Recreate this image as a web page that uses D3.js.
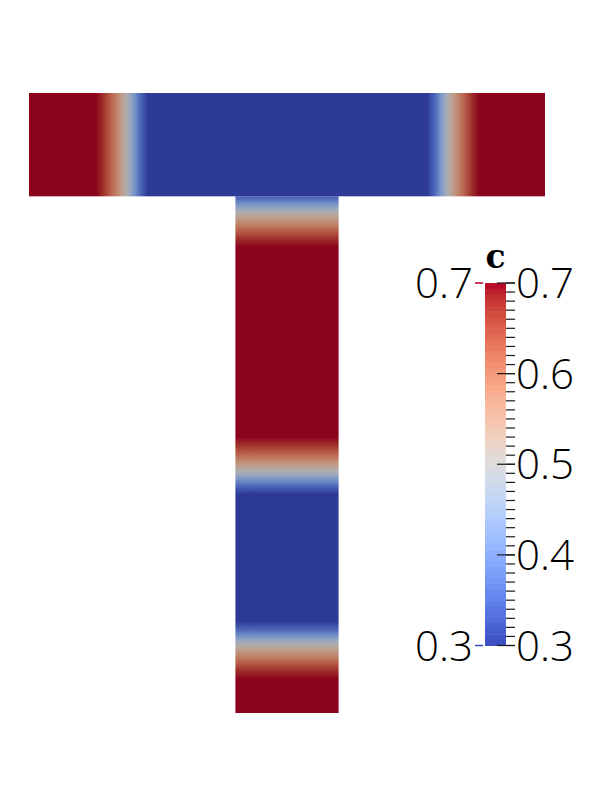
<!DOCTYPE html>
<html><head><meta charset="utf-8">
<script src="https://cdn.jsdelivr.net/npm/d3@7"></script>
<style>body{margin:0;background:#fff}svg{display:block}</style></head>
<body><svg id="chart" width="599" height="806"></svg>
<script>
// ---- geometry of the T (model units) ----
const barExtentX = [-2.5, 2.5];
const barExtentY = [0, 1];
const stemExtentX = [-0.5, 0.5];
const stemExtentY = [-5, 0];

// ---- diffuse interfaces of field c ----
const barInterfacePos = [-1.55, 1.56];
const barInterfaceSide = [-1, 1];        // side (along x) where c is high
const barInterfaceWidth = [0.2, 0.2];
const stemInterfacePos = [-0.155, -2.661, -4.335];
const stemInterfaceSide = [-1, 1, -1];   // side (along y) where c is high
const stemInterfaceWidth = [0.22, 0.22, 0.22];

// c across an interface vs normalised distance (high-c side is wider)
const profileD = [-2, -1, -0.6, -0.3, 0, 0.4, 0.8, 1.2, 1.5, 2.2];
const profileC = [0.2, 0.3, 0.36, 0.43, 0.5, 0.57, 0.63, 0.68, 0.7, 0.78];

// ---- colour bar ----
const cRange = [0.3, 0.7];
const rangeLabels = ["0.3", "0.7"];
const colorTitle = "c";
// Cool to Warm (Moreland) control colours
const coolWarm = [
 [59,76,192],[68,90,204],[77,104,215],[87,117,225],[98,130,234],[108,142,241],[119,154,247],[130,165,251],
 [141,176,254],[152,185,255],[163,194,255],[174,201,253],[184,208,249],[194,213,244],[204,217,238],[213,219,230],
 [221,221,221],[229,216,209],[236,211,197],[241,204,185],[245,196,173],[247,187,160],[247,177,148],[247,166,135],
 [244,154,123],[241,141,111],[236,127,99],[229,112,88],[222,96,77],[213,80,66],[203,62,56],[192,40,47],[180,4,38]];
const shade = 0.78;

const svg = d3.select("#chart");
svg.append("rect").attr("width",599).attr("height",806).attr("fill","#fff");

const x = d3.scaleLinear(barExtentX, [29, 545]);
const y = d3.scaleLinear([barExtentY[1], stemExtentY[0]], [93, 713]);

const color = d3.scaleLinear()
  .domain(coolWarm.map((_, i) => cRange[0] + (cRange[1]-cRange[0]) * i / (coolWarm.length-1)))
  .range(coolWarm.map(c => d3.rgb(c[0], c[1], c[2])))
  .interpolate(d3.interpolateRgb).clamp(true);
const shaded = v => { const c = d3.rgb(color(v)); return d3.rgb(c.r*shade, c.g*shade, c.b*shade).formatHex(); };

const profile = d3.scaleLinear(profileD, profileC).clamp(true);
function field(s, pos, side, width) {
  let best = 0;
  pos.forEach((p, i) => { if (Math.abs(s-p) < Math.abs(s-pos[best])) best = i; });
  return profile(side[best] * (s - pos[best]) / width[best]);
}

const defs = svg.append("defs");
function gradient(id, extent, vertical, pos, side, width) {
  const g = defs.append("linearGradient").attr("id", id)
    .attr("x1", 0).attr("y1", 0).attr("x2", vertical ? 0 : 1).attr("y2", vertical ? 1 : 0);
  const n = 600;
  const samples = d3.range(n + 1).map(i => i / n);
  g.selectAll("stop").data(samples).join("stop")
    .attr("offset", t => t)
    .attr("stop-color", t => {
      const s = vertical ? extent[1] - t * (extent[1]-extent[0]) : extent[0] + t * (extent[1]-extent[0]);
      return shaded(field(s, pos, side, width));
    });
}
gradient("barGrad", barExtentX, false, barInterfacePos, barInterfaceSide, barInterfaceWidth);
gradient("stemGrad", stemExtentY, true, stemInterfacePos, stemInterfaceSide, stemInterfaceWidth);

svg.append("rect")
  .attr("x", x(stemExtentX[0])).attr("y", y(stemExtentY[1]))
  .attr("width", x(stemExtentX[1]) - x(stemExtentX[0]))
  .attr("height", y(stemExtentY[0]) - y(stemExtentY[1]))
  .attr("fill", "url(#stemGrad)");
svg.append("rect")
  .attr("x", x(barExtentX[0])).attr("y", y(barExtentY[1]))
  .attr("width", x(barExtentX[1]) - x(barExtentX[0]))
  .attr("height", y(barExtentY[0]) - y(barExtentY[1]))
  .attr("fill", "url(#barGrad)");

// ---- colour bar ----
const cb = d3.scaleLinear(cRange, [645.5, 283]);
const barX0 = 485, barX1 = 506;
const nBands = 64;
const bands = d3.range(nBands).map(i => cRange[0] + (cRange[1]-cRange[0]) * i / nBands);
const bandH = (cRange[1]-cRange[0]) / nBands;
svg.append("g").selectAll("rect").data(bands).join("rect")
  .attr("x", barX0).attr("width", barX1 - barX0)
  .attr("y", v => cb(v + bandH)).attr("height", v => cb(v) - cb(v + bandH) + 0.5)
  .attr("fill", v => color(v + bandH/2));

const minor = cb.ticks(40), major = cb.ticks(4);
const tg = svg.append("g").attr("stroke", "#1a1a1a").attr("stroke-width", 1.2);
tg.selectAll("line.mi").data(minor).join("line").attr("class","mi")
  .attr("x1", barX1).attr("x2", 515).attr("y1", v => cb(v)).attr("y2", v => cb(v));
tg.selectAll("line.ma").data(major).join("line").attr("class","ma")
  .attr("x1", 497).attr("x2", 515).attr("y1", v => cb(v)).attr("y2", v => cb(v));

const font = "'Open Sans', 'Liberation Sans', sans-serif";
svg.append("g").selectAll("text").data(major).join("text")
  .attr("x", 516).attr("y", v => cb(v) + 15)
  .attr("font-family", font).attr("font-weight", 300).attr("font-size", 42)
  .attr("fill", "#000").text(v => d3.format(".1f")(v));

// range annotations on the left
const ann = svg.append("g");
ann.selectAll("line").data(cRange).join("line")
  .attr("x1", 475).attr("x2", 483).attr("y1", v => cb(v)).attr("y2", v => cb(v))
  .attr("stroke", v => color(v)).attr("stroke-width", 1.5);
ann.selectAll("text").data(cRange).join("text")
  .attr("x", 473).attr("y", (v, i) => cb(v) + 15).attr("text-anchor", "end")
  .attr("font-family", font).attr("font-weight", 300).attr("font-size", 42)
  .attr("fill", "#000").text((v, i) => rangeLabels[i]);

svg.append("text").attr("x", (barX0 + barX1) / 2).attr("y", 268).attr("text-anchor", "middle")
  .attr("font-family", "'DejaVu Serif', serif").attr("font-weight", "bold").attr("font-size", 33)
  .attr("fill", "#000").text(colorTitle);
</script></body></html>
